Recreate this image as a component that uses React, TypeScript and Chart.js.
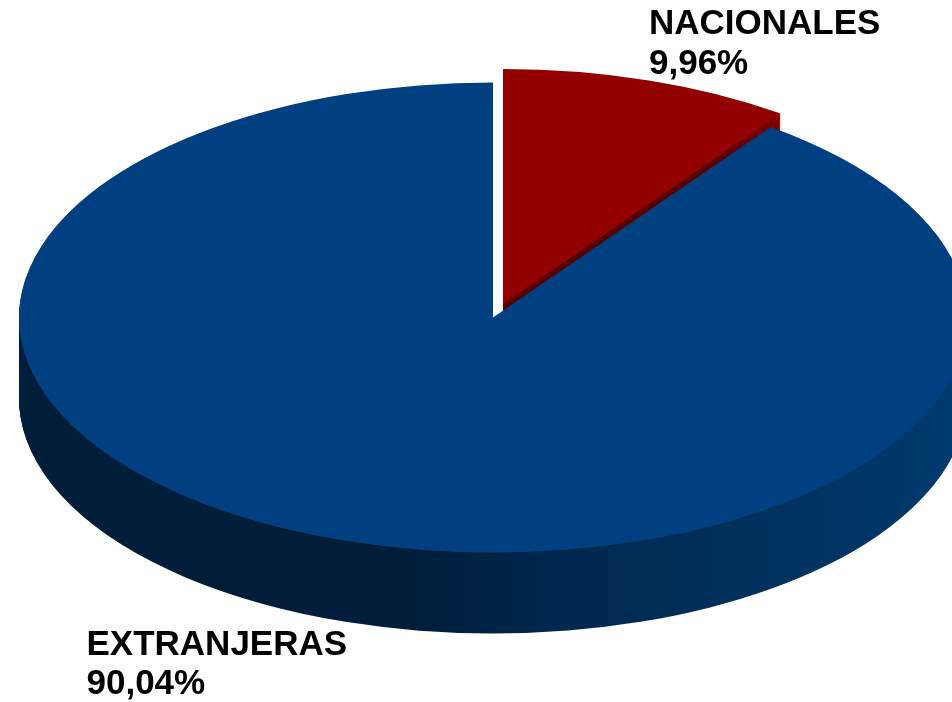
import React, { useEffect, useRef } from "react";
import { Chart, registerables } from "chart.js";

Chart.register(...registerables);

const categories = ["NACIONALES", "EXTRANJERAS"];
const shares = [9.96, 90.04];
const topColors = ["#930000", "#004080"];

const WIDTH = 952;
const HEIGHT = 702;
const RX = 474;
const RY = 235;
const DEPTH = 81;
const FONT = "bold 35px 'Liberation Sans', Arial, sans-serif";
const sliceCentres = [
  { x: 503, y: 304 },
  { x: 493, y: 317.5 },
];
const labelAnchors = [
  { x: 649, y: 34, gap: 40 },
  { x: 86.5, y: 655, gap: 39 },
];
const sideStops = [
  [
    [0, "#560000"],
    [0.8, "#5a0000"],
    [1, "#800000"],
  ],
  [
    [0, "#001d3a"],
    [0.42, "#001d3a"],
    [0.55, "#00264c"],
    [0.75, "#002f5a"],
    [1, "#003a6e"],
  ],
];
const sideRanges = [
  [503, 780],
  [19, 952],
];

const pie3d = {
  id: "pie3d",
  beforeDatasetsDraw(chart: any) {
    const ctx = chart.ctx;
    const arcs = chart.getDatasetMeta(0).data;
    const place = (arc: any, i: number, drop: number) => {
      const r = arc.outerRadius;
      ctx.translate(sliceCentres[i].x, sliceCentres[i].y + drop);
      ctx.scale(RX / r, RY / r);
      ctx.translate(-arc.x, -arc.y);
    };
    const drawSide = (i: number) => {
      const arc = arcs[i];
      const r = arc.outerRadius;
      const toUser = (x: number) => ((x - sliceCentres[i].x) * r) / RX + arc.x;
      const g = ctx.createLinearGradient(toUser(sideRanges[i][0]), 0, toUser(sideRanges[i][1]), 0);
      sideStops[i].forEach(([o, c]: any) => g.addColorStop(o, c));
      const original = arc.options;
      arc.options = Object.assign(Object.create(original), { backgroundColor: g });
      for (let d = DEPTH; d >= 1; d--) {
        ctx.save();
        place(arc, i, d);
        arc.draw(ctx);
        ctx.restore();
      }
      arc.options = original;
    };
    const drawTop = (i: number) => {
      ctx.save();
      place(arcs[i], i, 0);
      arcs[i].draw(ctx);
      ctx.restore();
    };
    drawSide(1);
    drawSide(0);
    drawTop(1);
    drawTop(0);
    return false;
  },
  afterDraw(chart: any) {
    const ctx = chart.ctx;
    const values = chart.data.datasets[0].data;
    ctx.save();
    ctx.font = FONT;
    ctx.fontKerning = "none";
    ctx.fillStyle = "#000000";
    ctx.textAlign = "left";
    ctx.textBaseline = "alphabetic";
    chart.data.labels.forEach((label: string, i: number) => {
      const a = labelAnchors[i];
      ctx.fillText(label, a.x, a.y);
      ctx.fillText(values[i].toFixed(2).replace(".", ",") + "%", a.x, a.y + a.gap);
    });
    ctx.restore();
  },
};

export default function App() {
  const ref = useRef<HTMLCanvasElement>(null);
  useEffect(() => {
    document.body.style.margin = "0";
    document.body.style.background = "#ffffff";
    const chart = new Chart(ref.current as HTMLCanvasElement, {
      type: "pie",
      data: {
        labels: categories,
        datasets: [{ data: shares, backgroundColor: topColors, borderWidth: 0 }],
      },
      options: {
        responsive: false,
        animation: false,
        layout: { padding: 0 },
        plugins: { legend: { display: false }, tooltip: { enabled: false } },
      },
      plugins: [pie3d],
    } as any);
    return () => chart.destroy();
  }, []);
  return (
    <canvas ref={ref} width={WIDTH} height={HEIGHT} style={{ display: "block", width: WIDTH, height: HEIGHT }} />
  );
}
